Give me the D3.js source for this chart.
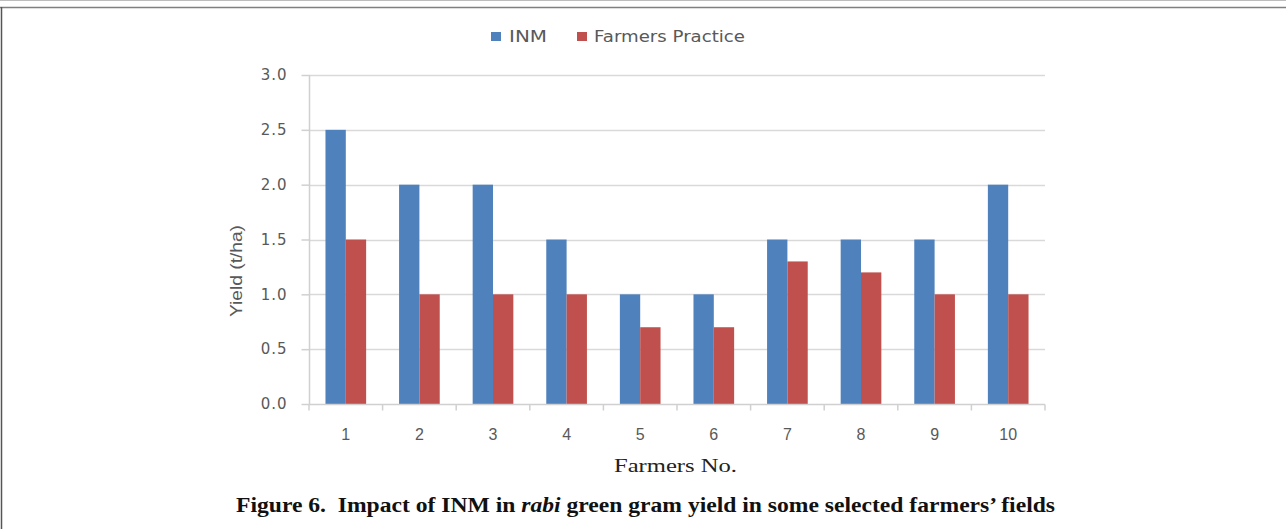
<!DOCTYPE html>
<html><head><meta charset="utf-8">
<script src="https://cdn.jsdelivr.net/npm/d3@7"></script>
<style>body{margin:0;background:#fff}svg{display:block}</style>
</head><body>
<svg id="c" width="1286" height="529"></svg>
<script>
const categories = ["1","2","3","4","5","6","7","8","9","10"];
const inm = [2.5,2.0,2.0,1.5,1.0,1.0,1.5,1.5,1.5,2.0];
const farmers = [1.5,1.0,1.0,1.0,0.7,0.7,1.3,1.2,1.0,1.0];
const seriesNames = ["INM","Farmers Practice"];
const yTicks = [0,0.5,1.0,1.5,2.0,2.5,3.0];

const svg = d3.select("#c");
// frame
svg.append("line").attr("x1",0).attr("x2",1286).attr("y1",0.5).attr("y2",0.5).attr("stroke","#bdbdbd").attr("stroke-width",1);
svg.append("line").attr("x1",0).attr("x2",1286).attr("y1",7.5).attr("y2",7.5).attr("stroke","#808080").attr("stroke-width",1.5);
svg.append("line").attr("x1",1.5).attr("x2",1.5).attr("y1",7).attr("y2",529).attr("stroke","#555").attr("stroke-width",1.5);

const L=309, R=1045, T=75, B=404;
const x = d3.scaleBand().domain(categories).range([L,R]).paddingInner(0).paddingOuter(0);
const y = d3.scaleLinear().domain([0,3]).range([B,T]);
const inner = d3.scaleBand().domain(seriesNames).range([0,x.bandwidth()]).paddingInner(0).paddingOuter(0.81);
const colors = {"INM":"#4F81BD","Farmers Practice":"#C0504D"};

// gridlines
svg.append("g").selectAll("line").data(yTicks.filter(d=>d>0)).join("line")
  .attr("x1",L).attr("x2",R).attr("y1",d=>Math.round(y(d))+0.5).attr("y2",d=>Math.round(y(d))+0.5)
  .attr("stroke","#d9d9d9").attr("stroke-width",1.5);

// bars
const rows = categories.map((c,i)=>({c, vals:[{s:"INM",v:inm[i]},{s:"Farmers Practice",v:farmers[i]}]}));
svg.append("g").selectAll("g").data(rows).join("g")
  .attr("transform",d=>`translate(${x(d.c)},0)`)
  .selectAll("rect").data(d=>d.vals).join("rect")
  .attr("x",d=>inner(d.s)).attr("width",inner.bandwidth())
  .attr("y",d=>y(d.v)).attr("height",d=>B-y(d.v))
  .attr("fill",d=>colors[d.s]);

// y axis
const yAxis = d3.axisLeft(y).tickValues(yTicks).tickFormat(d3.format(".1f")).tickSize(8).tickPadding(14);
const gy = svg.append("g").attr("transform",`translate(${L+0.5},0)`).call(yAxis);
gy.select(".domain").attr("stroke","#d0d0d0").attr("stroke-width",1.5).attr("d",`M0,${T}V${B}`);
gy.selectAll(".tick line").attr("stroke","#d0d0d0").attr("stroke-width",1.5);
gy.selectAll(".tick text").attr("fill","#595959").style("font-family","DejaVu Sans, Verdana, sans-serif")
  .style("font-size","15px").style("letter-spacing","1px");

// x axis
const xAxis = d3.axisBottom(x).tickSize(0).tickPadding(24);
const gx = svg.append("g").attr("transform",`translate(0,${B+0.5})`).call(xAxis);
gx.select(".domain").attr("stroke","#d0d0d0").attr("stroke-width",1.5).attr("d",`M${L},0H${R}`);
gx.selectAll(".tick text").attr("fill","#595959").style("font-family","Liberation Sans, sans-serif").style("font-size","16px");
// category boundary ticks
const bounds = categories.map(c=>x(c)).concat([R]);
gx.append("g").selectAll("line").data(bounds).join("line")
  .attr("x1",d=>d).attr("x2",d=>d).attr("y1",0).attr("y2",6)
  .attr("stroke","#d0d0d0").attr("stroke-width",1.5);

// y title
svg.append("text").attr("transform","translate(242,271) rotate(-90)").attr("text-anchor","middle")
  .attr("fill","#595959").style("font-family","Liberation Sans, sans-serif").style("font-size","16px")
  .attr("textLength",92).attr("lengthAdjust","spacingAndGlyphs")
  .text("Yield (t/ha)");

// legend
const leg = svg.append("g");
const legX = [491, 577];
const legT = [509, 594];
const legW = [38, 151];
seriesNames.forEach((s,i)=>{
  leg.append("rect").attr("x",legX[i]).attr("y",32).attr("width",10).attr("height",9).attr("fill",colors[s]);
  leg.append("text").attr("x",legT[i]).attr("y",42).attr("fill","#595959")
    .attr("textLength",legW[i]).attr("lengthAdjust","spacingAndGlyphs")
    .style("font-family","DejaVu Sans, Verdana, sans-serif").style("font-size","15px").text(s);
});

// x title
svg.append("text").attr("x",614).attr("y",472).attr("fill","#222")
  .attr("textLength",123).attr("lengthAdjust","spacingAndGlyphs")
  .style("font-family","Liberation Serif, Times New Roman, serif").style("font-size","19px").text("Farmers No.");

// caption
const cap = svg.append("text").attr("x",236).attr("y",512).attr("fill","#111")
  .attr("textLength",819).attr("lengthAdjust","spacingAndGlyphs")
  .style("font-family","Liberation Serif, Times New Roman, serif").style("font-size","20px").style("font-weight","bold");
cap.append("tspan").text("Figure 6.\u00a0 Impact of INM in ");
cap.append("tspan").style("font-style","italic").text("rabi");
cap.append("tspan").text(" green gram yield in some selected farmers\u2019 fields");
</script>
</body></html>
